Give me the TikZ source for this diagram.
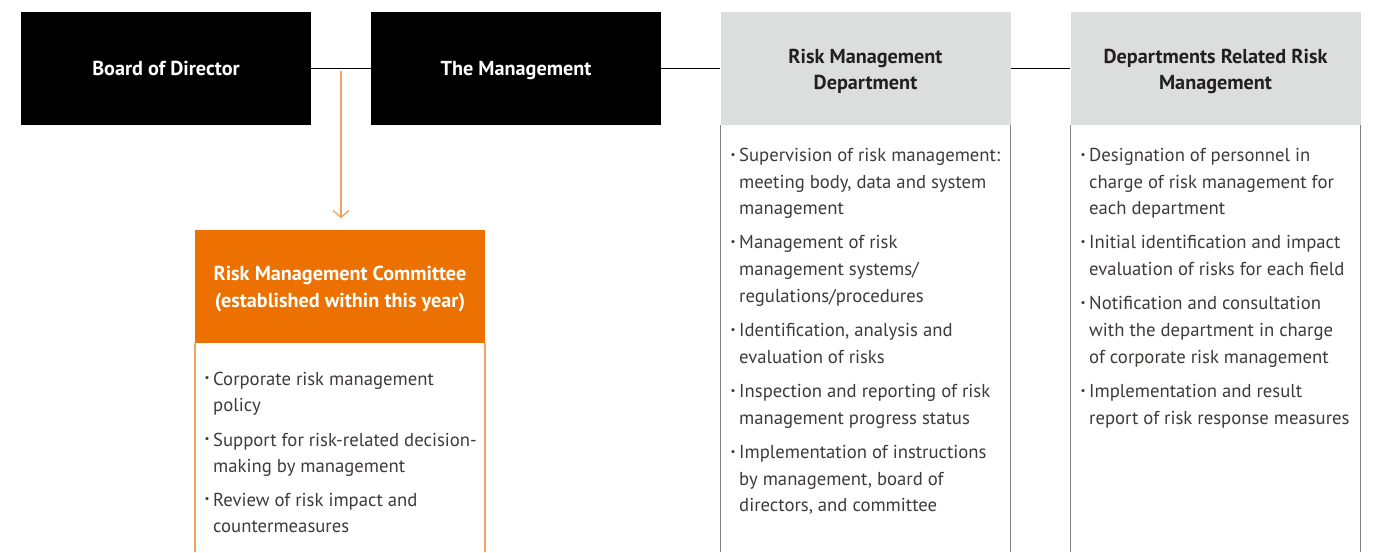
\documentclass[tikz,border=0pt]{standalone}
\usepackage{fontspec}
\setmainfont{PT Sans}
\usetikzlibrary{arrows.meta,calc}
\definecolor{orangeH}{RGB}{237,113,0}
\definecolor{orangeL}{RGB}{244,162,96}
\definecolor{greyH}{RGB}{220,221,221}
\definecolor{greyB}{RGB}{130,130,130}
\definecolor{txt}{RGB}{62,58,57}
\definecolor{htxt}{RGB}{35,31,32}
\tikzset{
  hdr/.style={minimum width=290pt,minimum height=113pt,inner sep=0pt,align=center,
    font=\fontsize{20.2}{27}\selectfont\bfseries},
  blackbox/.style={hdr,fill=black,text=white,text depth=0pt},
  greybox/.style={hdr,fill=greyH,text=htxt},
  orangebox/.style={hdr,fill=orangeH,text=white},
  linetxt/.style={anchor=base west,inner sep=0pt,text=txt,font=\fontsize{18.7}{26}\selectfont},
  bul/.style={anchor=base,inner sep=0pt,text=txt,font=\fontsize{11}{11}\selectfont},
  conn/.style={line width=1pt,black},
  gside/.style={line width=1.5pt,greyB},
  oside/.style={line width=1.5pt,orangeL},
}
\newcommand{\blines}[3]{%
  \foreach \yy/\tt [count=\i] in {#3}{\node[linetxt] (#1\i) at (#2,\yy) {\tt};}}
\newcommand{\bdot}[3]{\node[bul] (#1) at (#2,#3-3.2) {•};}
\newcommand{\twol}[2]{\raisebox{-2.7pt}[\height][\depth]{\shortstack{#1\\[5pt]#2}}}
\begin{document}
\begin{tikzpicture}[x=1pt,y=-1pt]
\useasboundingbox (0,0) rectangle (1375,552);
% headers
\node[blackbox] (bod) at (166,68.5) {Board of Director};
\node[blackbox] (mgmt) at (516,68.5) {The Management};
\node[greybox] (rmd) at (865.5,68.5) {\twol{Risk Management}{Department}};
\node[greybox] (drm) at (1215.5,68.5) {\twol{Departments Related Risk}{Management}};
\node[orangebox] (rmc) at (340,286) {\twol{Risk Management Committee}{(established within this year)}};
% connectors
\draw[conn] (bod.east) -- (mgmt.west);
\draw[conn] (mgmt.east) -- (rmd.west);
\draw[conn] (rmd.east) -- (drm.west);
\coordinate (j) at ($(bod.east)!0.5!(mgmt.west)+(0,2)$);
\draw[orangeL,line width=1.5pt,-{Straight Barb[length=7pt,width=16pt,line width=1.3pt]},shorten >=11pt] (j) -- (j |- rmc.north);
% body sides
\coordinate (b1) at (0,552);
\draw[gside] (rmd.south west) -- (rmd.south west |- b1);
\draw[gside] (rmd.south east) -- (rmd.south east |- b1);
\draw[gside] (drm.south west) -- (drm.south west |- b1);
\draw[gside] (drm.south east) -- (drm.south east |- b1);
\draw[oside] (rmc.south west) -- (rmc.south west |- b1);
\draw[oside] (rmc.south east) -- (rmc.south east |- b1);
% committee items
\blines{ca}{213}{385/Corporate risk management,411/policy}
\blines{cb}{213}{446/Support for risk-related decision-,472/making by management}
\blines{cc}{213}{506/Review of risk impact and,532/countermeasures}
\bdot{cda}{207}{385}\bdot{cdb}{207}{446}\bdot{cdc}{207}{506}
% RMD items
\blines{ra}{739}{161.5/{Supervision of risk management:},188/{meeting body, data and system},214.5/management}
\blines{rb}{739}{248.5/{Management of risk},275/{management systems/},302/{regulations/procedures}}
\blines{rc}{739}{336.5/{Identification, analysis and},363/evaluation of risks}
\blines{rd}{739}{397.5/Inspection and reporting of risk,424/management progress status}
\blines{re}{739}{458.5/Implementation of instructions,485/{by management, board of},511.5/{directors, and committee}}
\bdot{rda}{733}{161.5}\bdot{rdb}{733}{248.5}\bdot{rdc}{733}{336.5}\bdot{rdd}{733}{397.5}\bdot{rde}{733}{458.5}
% DRM items
\blines{da}{1089}{161.5/Designation of personnel in,188/charge of risk management for,214.5/each department}
\blines{db}{1089}{248.5/Initial identification and impact,275/evaluation of risks for each field}
\blines{dc}{1089}{309.5/Notification and consultation,336.5/with the department in charge,363/of corporate risk management}
\blines{dd}{1089}{397.5/Implementation and result,424/report of risk response measures}
\bdot{dda}{1083}{161.5}\bdot{ddb}{1083}{248.5}\bdot{ddc}{1083}{309.5}\bdot{ddd}{1083}{397.5}
\end{tikzpicture}
\end{document}
